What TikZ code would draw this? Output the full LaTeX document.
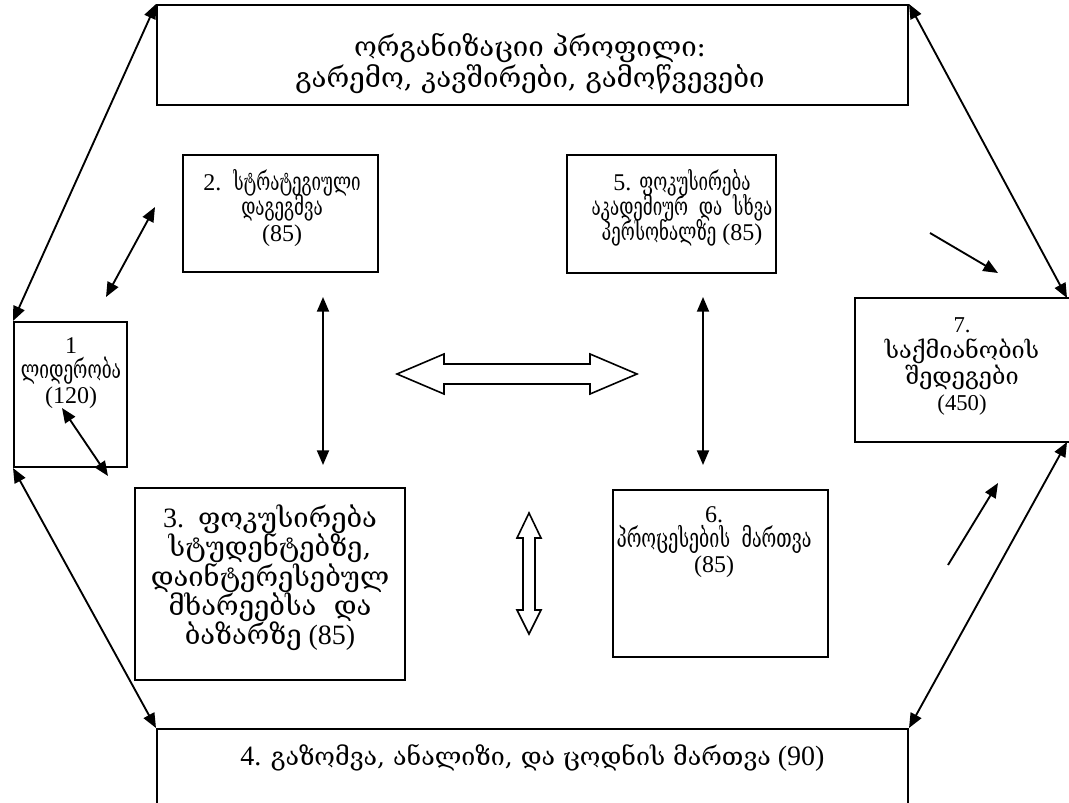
\documentclass[tikz,border=0pt]{standalone}
\usepackage{fontspec}
\setmainfont{Liberation Serif}
\newfontfamily\geo[FakeStretch=0.67]{DejaVu Serif}
\newfontfamily\geow{DejaVu Serif}
\newcommand\G[2]{{\geo\fontsize{#1}{#1}\selectfont #2}}
\newcommand\W[2]{{\geow\fontsize{#1}{#1}\selectfont #2}}
\usetikzlibrary{arrows.meta}
\begin{document}
\lineskiplimit=-30pt
\begin{tikzpicture}[x=0.75pt,y=-0.75pt,
 box/.style={draw,line width=1.5pt,inner sep=0pt},
 txt/.style={align=center,inner sep=0pt},
 tip/.tip={Triangle[length=11pt,width=9pt]},
 dbl/.style={line width=1.4pt,tip-tip},
 sgl/.style={line width=1.4pt,-tip},
 blk/.style={draw,line width=1.2pt,fill=white,line join=miter}]
\useasboundingbox[fill=white] (0,0) rectangle (1069,802);
% boxes
\node[box,minimum width=751*0.75pt,minimum height=100*0.75pt] (T) at (532.5,55) {};
\node[box,minimum width=195*0.75pt,minimum height=117*0.75pt] (b2) at (280.5,213.5) {};
\node[box,minimum width=209*0.75pt,minimum height=118*0.75pt] (b5) at (671.5,214) {};
\node[box,minimum width=113*0.75pt,minimum height=145*0.75pt] (b1) at (70.5,394.5) {};
\node[box,minimum width=230*0.75pt,minimum height=144*0.75pt] (b7) at (970,370) {};
\node[box,minimum width=270*0.75pt,minimum height=192*0.75pt] (b3) at (270,584) {};
\node[box,minimum width=215*0.75pt,minimum height=167*0.75pt] (b6) at (720.5,573.5) {};
\node[box,minimum width=751*0.75pt,minimum height=101*0.75pt] (b4) at (532.5,779.5) {};
% texts
\node[txt,font=\fontsize{21}{23}\selectfont] (tT) at (530,63.5) {\W{20.7}{ორგანიზაციი\ პროფილი:}\\\W{20.7}{გარემო,\ კავშირები,\ გამოწვევები}};
\node[txt,font=\fontsize{18}{19}\selectfont] (t2) at (282,208) {2.\ \ \G{19}{სტრატეგიული}\\\G{19}{დაგეგმვა}\\(85)};
\node[txt,font=\fontsize{18}{19}\selectfont] (t5) at (682,208) {5. \G{19}{ფოკუსირება}\\\G{19}{აკადემიურ\ \ და\ \ სხვა}\\\G{19}{პერსონალზე} (85)};
\node[txt,font=\fontsize{18}{19}\selectfont] (t1) at (71,373) {1\\\G{19.4}{ლიდერობა}\\(120)};
\node[txt,font=\fontsize{17}{19.5}\selectfont] (t7) at (962,366) {7.\\\W{17.6}{საქმიანობის}\\\W{17.6}{შედეგები}\\(450)};
\node[txt,font=\fontsize{21}{22}\selectfont] (t3) at (270,578) {3.\ \ \W{20.5}{ფოკუსირება}\\\W{20.5}{სტუდენტებზე,}\\\W{20.5}{დაინტერესებულ}\\\W{20.5}{მხარეებსა\ \ და}\\\W{20.5}{ბაზარზე} (85)};
\node[txt,font=\fontsize{18}{19}\selectfont] (t6) at (714,542) {6.\\\G{20}{პროცესების\ \ მართვა}\\(85)};
\node[txt,font=\fontsize{21}{23}\selectfont] (t4) at (532.5,758) {4. \W{18.75}{გაზომვა,\ ანალიზი,\ და\ ცოდნის\ მართვა} (90)};
% free connector ends
\coordinate (r1) at (1067,298);
\coordinate (r2) at (1067,442);
\coordinate (c21a) at (155,207);
\coordinate (c21b) at (106,297);
\coordinate (c13a) at (62,408);
\coordinate (c13b) at (108,476);
\coordinate (c23a) at (323,297);
\coordinate (c23b) at (323,465);
\coordinate (c56a) at (703,297);
\coordinate (c56b) at (703,465);
\coordinate (c57a) at (930,233);
\coordinate (c57b) at (998,273);
\coordinate (c67a) at (948,565);
\coordinate (c67b) at (998,483);
% connectors
\draw[dbl] (b1.north west) -- (T.north west);
\draw[dbl] (b1.south west) -- (b4.north west);
\draw[dbl] (T.north east) -- (r1);
\draw[dbl] (r2) -- (b4.north east);
\draw[dbl] (c21a) -- (c21b);
\draw[dbl] (c13a) -- (c13b);
\draw[dbl] (c23a) -- (c23b);
\draw[dbl] (c56a) -- (c56b);
\draw[sgl] (c57a) -- (c57b);
\draw[sgl] (c67a) -- (c67b);
% block arrows
\draw[blk] (397,374) -- (444,354) -- (444,364) -- (590,364) -- (590,354) -- (637,374) -- (590,394) -- (590,384) -- (444,384) -- (444,394) -- cycle;
\draw[blk] (529,513) -- (541,538) -- (535,538) -- (535,610) -- (541,610) -- (529,634) -- (517,610) -- (523,610) -- (523,538) -- (517,538) -- cycle;
\end{tikzpicture}
\end{document}
